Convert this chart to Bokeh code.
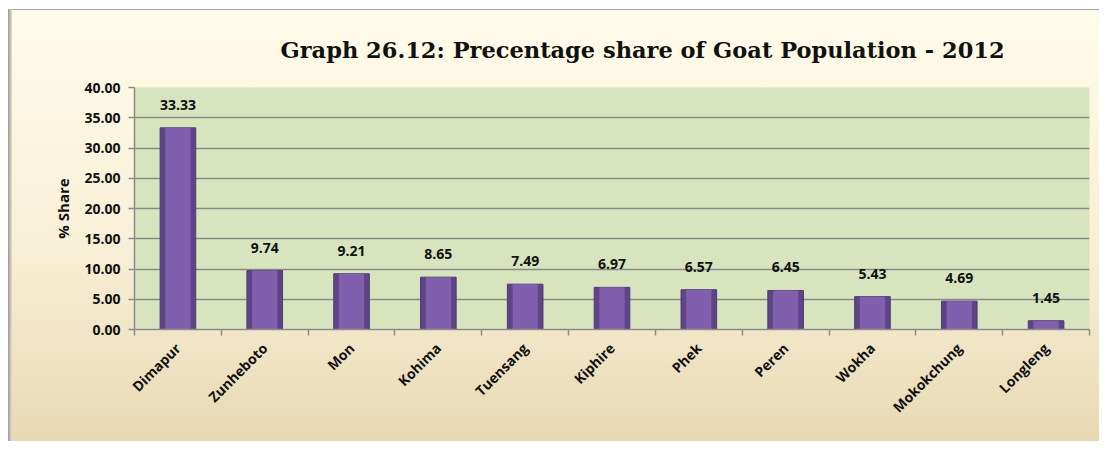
import math
import numpy as np
from bokeh.plotting import figure
from bokeh.models import Range1d, FixedTicker, Title, ColumnDataSource, NumeralTickFormatter
from bokeh.embed import file_html
from bokeh.resources import INLINE

districts = ["Dimapur", "Zunheboto", "Mon", "Kohima", "Tuensang", "Kiphire",
             "Phek", "Peren", "Wokha", "Mokokchung", "Longleng"]
share = [33.33, 9.74, 9.21, 8.65, 7.49, 6.97, 6.57, 6.45, 5.43, 4.69, 1.45]
y_ticks = [0, 5, 10, 15, 20, 25, 30, 35, 40]

n = len(districts)
xs = np.arange(n) + 0.5
src = ColumnDataSource(dict(x=xs, top=share, label=[f"{v:.2f}" for v in share]))

p = figure(width=1099, height=441, output_backend="svg", toolbar_location=None,
           x_range=Range1d(0, n), y_range=Range1d(0, 40),
           min_border_left=134, min_border_right=10, min_border_top=87, min_border_bottom=112)

p.border_fill_alpha = 0
p.styles = {
    "background": (
        "linear-gradient(90deg, #9a9a9a, #e6dfc6) 8px 9px / 4px calc(100% - 9px) no-repeat, "
        "linear-gradient(#a4a4a4, #a4a4a4) 8px 9px / calc(100% - 8px) 1px no-repeat, "
        "linear-gradient(180deg, #fffcea 0%, #f8f0d6 55%, #e7d9b3 100%) 8px 9px / calc(100% - 8px) calc(100% - 9px) no-repeat, "
        "#ffffff"
    )
}
p.background_fill_color = "#d7e4bd"
p.outline_line_color = None

title = Title(text="Graph 26.12: Precentage share of Goat Population - 2012",
              align="left", offset=146, standoff=49,
              text_font="DejaVu Serif", text_font_size="22.5px", text_font_style="bold",
              text_color="#111111")
p.add_layout(title, "above")

# bars
p.vbar(x="x", top="top", width=0.41, source=src, fill_color="#5f4588", line_color="#4f3a74", line_width=1)
p.vbar(x="x", top="top", width=0.29, source=src, fill_color="#8060ad", line_color=None)
p.text(x="x", y="top", text="label", source=src, text_align="center", text_baseline="bottom",
       y_offset=-18, text_font_size="14px", text_font_style="bold", text_color="#111111",
       text_font={"value": "Open Sans"})

# y axis
p.yaxis.ticker = FixedTicker(ticks=y_ticks)
p.yaxis.formatter = NumeralTickFormatter(format="0.00")
p.yaxis.axis_label = "% Share"
p.yaxis.axis_label_text_font = "Open Sans"
p.yaxis.axis_label_text_font_style = "bold"
p.yaxis.axis_label_text_font_size = "15px"
p.yaxis.axis_label_text_color = "#111111"
p.yaxis.axis_label_standoff = 8
p.yaxis.major_label_text_font = "Open Sans"
p.yaxis.major_label_text_font_style = "bold"
p.yaxis.major_label_text_font_size = "14px"
p.yaxis.major_label_text_color = "#111111"
p.yaxis.major_label_standoff = 8
p.yaxis.axis_line_color = "#8c8c8c"
p.yaxis.axis_line_width = 1.5
p.yaxis.major_tick_line_color = "#8c8c8c"
p.yaxis.major_tick_line_width = 1.5
p.yaxis.major_tick_in = 0
p.yaxis.major_tick_out = 6
p.yaxis.minor_tick_line_color = None

# x axis: labels at centres, ticks at boundaries
p.xaxis.ticker = FixedTicker(ticks=list(xs), minor_ticks=list(range(n + 1)))
p.xaxis.major_label_overrides = {float(x): d for x, d in zip(xs, districts)}
p.xaxis.major_label_orientation = math.pi / 4
p.xaxis.major_label_text_font = "Open Sans"
p.xaxis.major_label_text_font_style = "bold"
p.xaxis.major_label_text_font_size = "14px"
p.xaxis.major_label_text_color = "#111111"
p.xaxis.major_label_standoff = 10
p.xaxis.major_tick_line_color = None
p.xaxis.minor_tick_line_color = "#8c8c8c"
p.xaxis.minor_tick_line_width = 1.5
p.xaxis.minor_tick_in = 0
p.xaxis.minor_tick_out = 6
p.xaxis.axis_line_color = "#8c8c8c"
p.xaxis.axis_line_width = 1.5

p.xgrid.grid_line_color = None
p.ygrid.grid_line_color = "#8a8a8a"
p.ygrid.grid_line_width = 1.5

open("out.html", "w").write(file_html(p, INLINE))
